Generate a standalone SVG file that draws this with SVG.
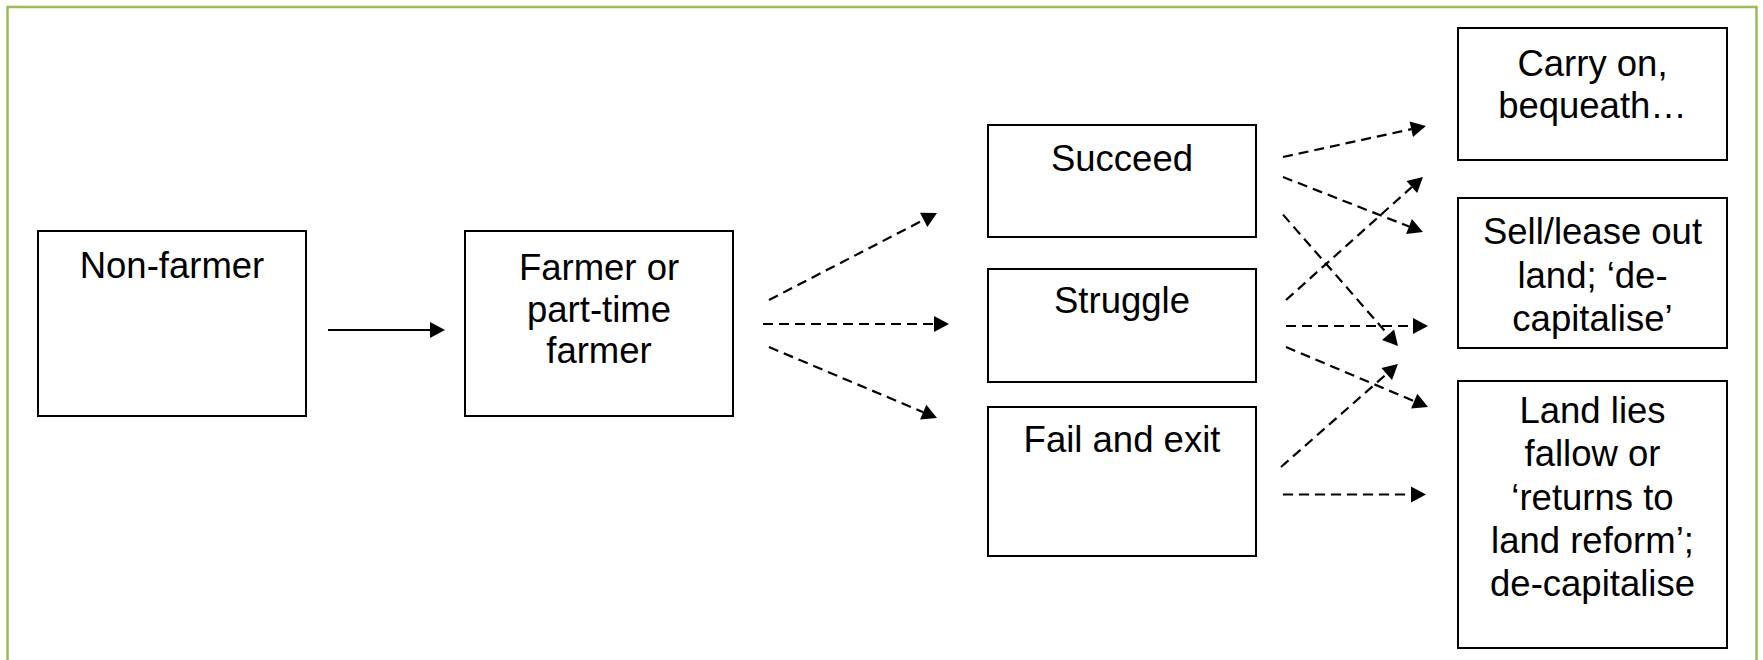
<svg xmlns="http://www.w3.org/2000/svg" width="1763" height="660" viewBox="0 0 1763 660">
<style>
.box{fill:#fff;stroke:#000;stroke-width:2}
.t{font-family:"Liberation Sans",Arial,sans-serif;font-size:36.5px;fill:#000;text-anchor:middle}
.c{stroke:#000;stroke-width:2.2;fill:none}
.d{stroke-dasharray:10 6}
</style>
<defs>
<marker id="ah" markerUnits="userSpaceOnUse" markerWidth="16" markerHeight="17" refX="0" refY="8" orient="auto" overflow="visible">
<path d="M0,0 L15,8 L0,16 Z" fill="#000"/>
</marker>
</defs>
<rect x="0" y="0" width="1763" height="660" fill="#fff"/>
<rect x="7.5" y="7" width="1749" height="700" fill="none" stroke="#9BBB59" stroke-width="2.5"/>

<g id="node-nonfarmer">
<rect class="box" x="38" y="231" width="268" height="185"/>
<text class="t" x="172" y="278">Non-farmer</text>
</g>
<g id="node-farmer">
<rect class="box" x="465" y="231" width="268" height="185"/>
<text class="t" x="599" y="280">Farmer or</text>
<text class="t" x="599" y="321.5">part-time</text>
<text class="t" x="599" y="363">farmer</text>
</g>
<g id="node-succeed">
<rect class="box" x="988" y="125" width="268" height="112"/>
<text class="t" x="1122" y="171">Succeed</text>
</g>
<g id="node-struggle">
<rect class="box" x="988" y="269" width="268" height="113"/>
<text class="t" x="1122" y="313">Struggle</text>
</g>
<g id="node-fail">
<rect class="box" x="988" y="407" width="268" height="149"/>
<text class="t" x="1122" y="452">Fail and exit</text>
</g>
<g id="node-carryon">
<rect class="box" x="1458" y="28" width="269" height="132"/>
<text class="t" x="1592.5" y="76">Carry on,</text>
<text class="t" x="1592.5" y="118">bequeath…</text>
</g>
<g id="node-sell">
<rect class="box" x="1458" y="198" width="269" height="150"/>
<text class="t" x="1592.5" y="244">Sell/lease out</text>
<text class="t" x="1592.5" y="287.5">land; ‘de-</text>
<text class="t" x="1592.5" y="331">capitalise’</text>
</g>
<g id="node-fallow">
<rect class="box" x="1458" y="381" width="269" height="267"/>
<text class="t" x="1592.5" y="423">Land lies</text>
<text class="t" x="1592.5" y="466">fallow or</text>
<text class="t" x="1592.5" y="509.5">‘returns to</text>
<text class="t" x="1592.5" y="553">land reform’;</text>
<text class="t" x="1592.5" y="596">de-capitalise</text>
</g>

<g id="connectors">
<line class="c" x1="328" y1="330" x2="430" y2="330" marker-end="url(#ah)"/>
<line class="c d" x1="769" y1="300" x2="923.7" y2="219.9" marker-end="url(#ah)"/>
<line class="c d" x1="763" y1="324" x2="934" y2="324" marker-end="url(#ah)"/>
<line class="c d" x1="769" y1="347" x2="923.2" y2="412.2" marker-end="url(#ah)"/>
<line class="c d" x1="1283" y1="157" x2="1411.3" y2="129.2" marker-end="url(#ah)"/>
<line class="c d" x1="1283" y1="177" x2="1409" y2="226.5" marker-end="url(#ah)"/>
<line class="c d" x1="1283" y1="214.6" x2="1388.1" y2="334.7" marker-end="url(#ah)"/>
<line class="c d" x1="1286" y1="300" x2="1411.8" y2="187" marker-end="url(#ah)"/>
<line class="c d" x1="1286" y1="326" x2="1413" y2="326" marker-end="url(#ah)"/>
<line class="c d" x1="1286" y1="347" x2="1414.2" y2="401.2" marker-end="url(#ah)"/>
<line class="c d" x1="1281" y1="467" x2="1386.7" y2="373.9" marker-end="url(#ah)"/>
<line class="c d" x1="1283" y1="494.5" x2="1411" y2="494.5" marker-end="url(#ah)"/>
</g>
</svg>
